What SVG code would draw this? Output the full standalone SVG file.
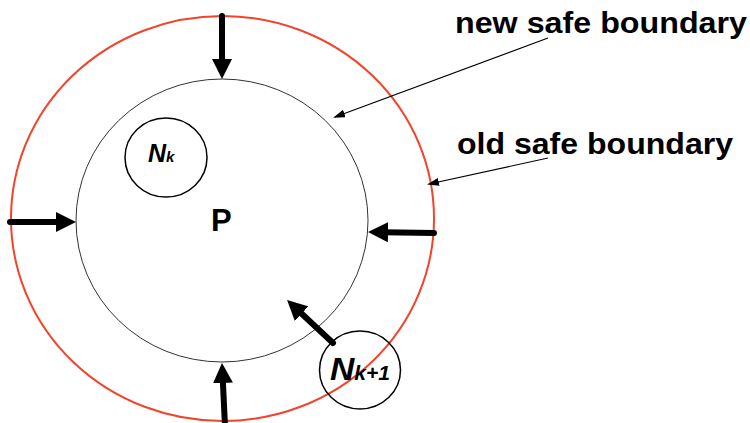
<svg xmlns="http://www.w3.org/2000/svg" width="750" height="423" viewBox="0 0 750 423">
<style>
.lbl{font-family:"Liberation Sans",Arial,sans-serif;font-weight:bold;fill:#000}
.it{font-style:italic}
.thick{stroke:#000;stroke-width:6;stroke-linecap:round;fill:none;marker-end:url(#big)}
.thin{stroke:#000;stroke-width:1.2;fill:none;marker-end:url(#small)}
</style>
<defs>
<marker id="big" markerUnits="userSpaceOnUse" markerWidth="20" markerHeight="20" viewBox="0 0 20 20" refX="5" refY="10" orient="auto"><path d="M0,0 L20,10 L0,20 z" fill="#000"/></marker>
<marker id="small" markerUnits="userSpaceOnUse" markerWidth="12" markerHeight="8" viewBox="0 0 12 8" refX="10" refY="4" orient="auto"><path d="M0,0 L12,4 L0,8 z" fill="#000"/></marker>
</defs>
<rect width="750" height="423" fill="#fff"/>
<g id="old-boundary"><ellipse cx="222.5" cy="218.5" rx="211.5" ry="202.5" fill="none" stroke="#f2432b" stroke-width="2"/></g>
<g id="P"><ellipse cx="222" cy="220.5" rx="146" ry="141.5" fill="none" stroke="#333" stroke-width="1"/>
<text class="lbl" x="211" y="231" font-size="31">P</text></g>
<g id="Nk"><ellipse cx="166" cy="157.5" rx="41" ry="39.5" fill="#fff" stroke="#000" stroke-width="1.5"/>
<text class="lbl it" x="148" y="162" font-size="25">N<tspan font-size="15">k</tspan></text></g>
<g id="Nk1"><ellipse cx="360" cy="370" rx="40.5" ry="39" fill="none" stroke="#000" stroke-width="1.5"/>
<text class="lbl it" x="330" y="380" font-size="32" textLength="60" lengthAdjust="spacingAndGlyphs">N<tspan font-size="20">k+1</tspan></text></g>
<g id="label-new"><text class="lbl" x="455" y="33" font-size="30" textLength="292" lengthAdjust="spacingAndGlyphs">new safe boundary</text></g>
<g id="label-old"><text class="lbl" x="457" y="154" font-size="30" textLength="276" lengthAdjust="spacingAndGlyphs">old safe boundary</text></g>
<g id="connectors">
<line class="thick" x1="222" y1="16" x2="222" y2="64"/>
<line class="thick" x1="10" y1="222" x2="61" y2="222"/>
<line class="thick" x1="434" y1="233" x2="383" y2="232.2"/>
<line class="thick" x1="225" y1="426" x2="222.7" y2="378"/>
<line class="thick" x1="333" y1="343" x2="298" y2="310.2"/>
<line class="thin" x1="548" y1="38" x2="335" y2="117"/>
<line class="thin" x1="548" y1="158" x2="429" y2="184"/>
</g>
</svg>
